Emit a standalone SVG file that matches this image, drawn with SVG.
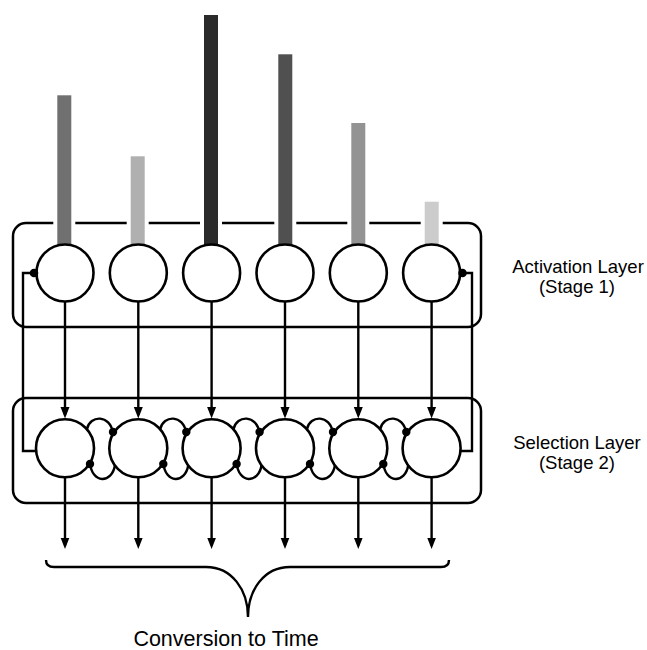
<svg xmlns="http://www.w3.org/2000/svg" width="647" height="650" viewBox="0 0 647 650">
<defs>
<style>
.box{fill:none;stroke:#000;stroke-width:2.5}
.bar{stroke:#fff;stroke-width:4}
.node{fill:#fff;stroke:#000;stroke-width:2.6}
.ln{fill:none;stroke:#000;stroke-width:2.4}
.dot{fill:#000}
.lbl{font-family:"Liberation Sans",Arial,Helvetica,sans-serif;fill:#000;text-anchor:middle}
</style>
<marker id="arr" markerUnits="userSpaceOnUse" markerWidth="12" markerHeight="10" refX="8" refY="5" orient="auto">
<path d="M0,0.5 L11.5,5 L0,9.5 z" fill="#000"/>
</marker>
</defs>
<rect id="activation-layer" class="box" x="13" y="223" width="468" height="104" rx="13"/>
<rect id="selection-layer" class="box" x="13" y="398" width="468" height="105" rx="13"/>
<g id="bars">
<rect class="bar" x="55.3" y="93.3" width="18" height="157" fill="#707070"/>
<rect class="bar" x="128.7" y="154.3" width="18" height="96" fill="#b0b0b0"/>
<rect class="bar" x="202" y="13" width="18" height="237" fill="#2b2b2b"/>
<rect class="bar" x="276.3" y="52.3" width="18" height="198" fill="#505050"/>
<rect class="bar" x="349.3" y="121" width="18" height="129" fill="#939393"/>
<rect class="bar" x="422.7" y="199.7" width="18" height="50" fill="#cccccc"/>
</g>
<g id="connectors">
<line class="ln" x1="65" y1="301" x2="65" y2="415" marker-end="url(#arr)"/>
<line class="ln" x1="138.3" y1="301" x2="138.3" y2="415" marker-end="url(#arr)"/>
<line class="ln" x1="211.6" y1="301" x2="211.6" y2="415" marker-end="url(#arr)"/>
<line class="ln" x1="285" y1="301" x2="285" y2="415" marker-end="url(#arr)"/>
<line class="ln" x1="358.3" y1="301" x2="358.3" y2="415" marker-end="url(#arr)"/>
<line class="ln" x1="431.6" y1="301" x2="431.6" y2="415" marker-end="url(#arr)"/>
<line class="ln" x1="65" y1="477" x2="65" y2="545.5" marker-end="url(#arr)"/>
<line class="ln" x1="138.3" y1="477" x2="138.3" y2="545.5" marker-end="url(#arr)"/>
<line class="ln" x1="211.6" y1="477" x2="211.6" y2="545.5" marker-end="url(#arr)"/>
<line class="ln" x1="285" y1="477" x2="285" y2="545.5" marker-end="url(#arr)"/>
<line class="ln" x1="358.3" y1="477" x2="358.3" y2="545.5" marker-end="url(#arr)"/>
<line class="ln" x1="431.6" y1="477" x2="431.6" y2="545.5" marker-end="url(#arr)"/>
<path class="ln" d="M33,273 H23 V451 H37"/>
<path class="ln" d="M462,273 H472 V451 H460"/>
<g id="lateral">
<path class="ln" d="M87,429 C90,415 110,414 113,433"/>
<path class="ln" d="M115,465 C112,484 92,484 90,463"/>
<path class="ln" d="M160.3,429 C163.3,415 183.3,414 186.3,433"/>
<path class="ln" d="M188.3,465 C185.3,484 165.3,484 163.3,463"/>
<path class="ln" d="M233.6,429 C236.6,415 256.6,414 259.6,433"/>
<path class="ln" d="M261.6,465 C258.6,484 238.6,484 236.6,463"/>
<path class="ln" d="M307,429 C310,415 330,414 333,433"/>
<path class="ln" d="M335,465 C332,484 312,484 310,463"/>
<path class="ln" d="M380.3,429 C383.3,415 403.3,414 406.3,433"/>
<path class="ln" d="M408.3,465 C405.3,484 385.3,484 383.3,463"/>
</g>
<path class="ln" d="M46,560 Q46,567 54,567 L206,567 C232,567 248,590 248,617 C248,590 264,567 290,567 L441,567 Q449,567 449,560"/>
</g>
<g id="stage1-nodes">
<circle id="a1" class="node" cx="65" cy="273" r="28.5"/>
<circle id="a2" class="node" cx="138.3" cy="273" r="28.5"/>
<circle id="a3" class="node" cx="211.6" cy="273" r="28.5"/>
<circle id="a4" class="node" cx="285" cy="273" r="28.5"/>
<circle id="a5" class="node" cx="358.3" cy="273" r="28.5"/>
<circle id="a6" class="node" cx="431.6" cy="273" r="28.5"/>
</g>
<g id="stage2-nodes">
<circle id="s1" class="node" cx="65" cy="448.3" r="29"/>
<circle id="s2" class="node" cx="138.3" cy="448.3" r="29"/>
<circle id="s3" class="node" cx="211.6" cy="448.3" r="29"/>
<circle id="s4" class="node" cx="285" cy="448.3" r="29"/>
<circle id="s5" class="node" cx="358.3" cy="448.3" r="29"/>
<circle id="s6" class="node" cx="431.6" cy="448.3" r="29"/>
</g>
<g id="dots">
<circle class="dot" cx="34" cy="273" r="4.3"/>
<circle class="dot" cx="462.5" cy="273" r="4.3"/>
<circle class="dot" cx="113" cy="432" r="4.2"/>
<circle class="dot" cx="90" cy="464" r="4.2"/>
<circle class="dot" cx="186.3" cy="432" r="4.2"/>
<circle class="dot" cx="163.3" cy="464" r="4.2"/>
<circle class="dot" cx="259.6" cy="432" r="4.2"/>
<circle class="dot" cx="236.6" cy="464" r="4.2"/>
<circle class="dot" cx="333" cy="432" r="4.2"/>
<circle class="dot" cx="310" cy="464" r="4.2"/>
<circle class="dot" cx="406.3" cy="432" r="4.2"/>
<circle class="dot" cx="383.3" cy="464" r="4.2"/>
</g>
<g id="labels">
<text class="lbl" x="578" y="273.3" font-size="18.5">Activation Layer</text>
<text class="lbl" x="577" y="292.5" font-size="18.5">(Stage 1)</text>
<text class="lbl" x="577" y="449.3" font-size="18.5">Selection Layer</text>
<text class="lbl" x="577" y="469" font-size="18.5">(Stage 2)</text>
<text class="lbl" x="226" y="645.5" font-size="21.5">Conversion to Time</text>
</g>
</svg>
